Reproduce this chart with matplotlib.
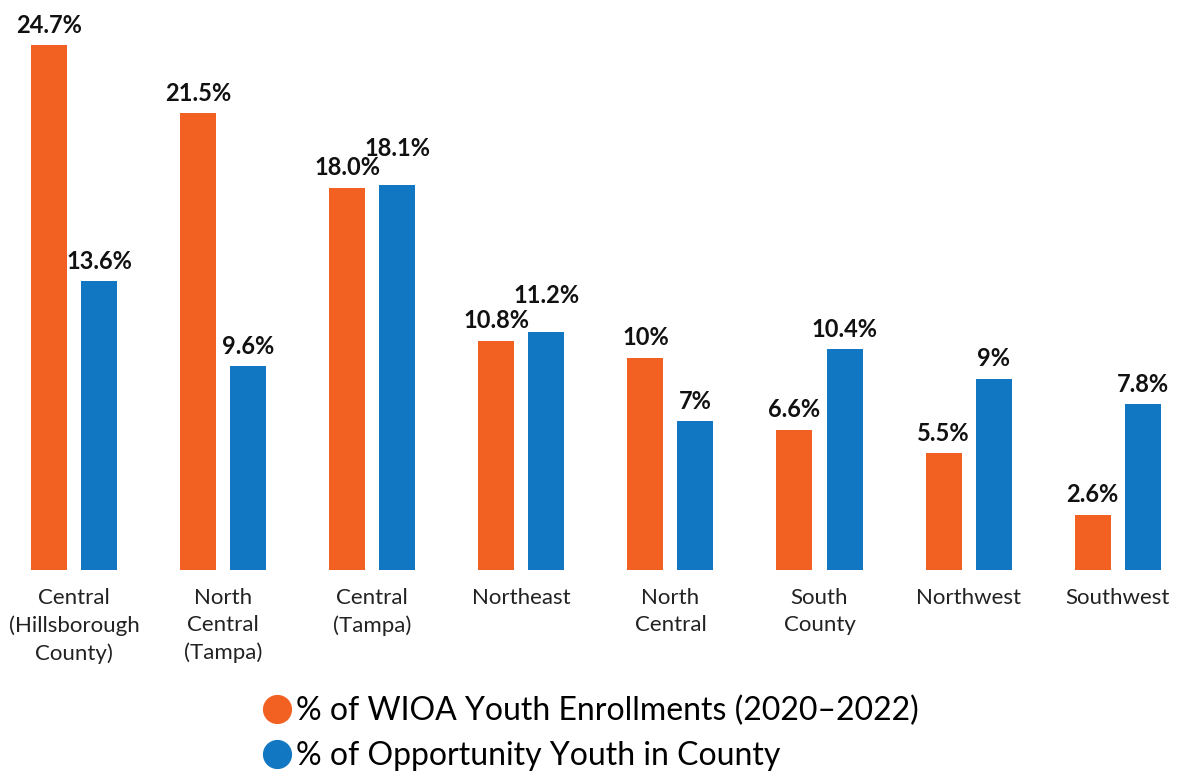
import matplotlib
matplotlib.use("Agg")
import numpy as np
import matplotlib.pyplot as plt
from matplotlib.lines import Line2D

plt.rcParams['font.family'] = ['Lato', 'DejaVu Sans']

regions = ["Central\n(Hillsborough\nCounty)", "North\nCentral\n(Tampa)", "Central\n(Tampa)",
           "Northeast", "North\nCentral", "South\nCounty", "Northwest", "Southwest"]
wioa = [24.7, 21.5, 18.0, 10.8, 10.0, 6.6, 5.5, 2.6]
wioa_labels = ["24.7%", "21.5%", "18.0%", "10.8%", "10%", "6.6%", "5.5%", "2.6%"]
opp = [13.6, 9.6, 18.1, 11.2, 7.0, 10.4, 9.0, 7.8]
opp_labels = ["13.6%", "9.6%", "18.1%", "11.2%", "7%", "10.4%", "9%", "7.8%"]
series_names = ["% of WIOA Youth Enrollments (2020\u20132022)", "% of Opportunity Youth in County"]

orange = "#F26122"
blue = "#1277C2"

W, H = 1178, 774
fig = plt.figure(figsize=(W / 100, H / 100), dpi=100)
ax = fig.add_axes([0, 1 - 570 / H, 1, 570 / H])

x = np.arange(len(regions))
bw = 0.2416
off = 0.1678
b1 = ax.bar(x - off, wioa, bw, color=orange)
b2 = ax.bar(x + off, opp, bw, color=blue)

# labels of near-equal pairs would collide, so lift the blue one
for i, (r1, r2) in enumerate(zip(b1, b2)):
    h1, h2 = r1.get_height(), r2.get_height()
    lift2 = 18 if abs(h1 - h2) < 1.5 else 6
    ax.annotate(wioa_labels[i], (r1.get_x() + r1.get_width() / 2, h1),
                xytext=(0, 6), textcoords="offset points", ha="center", va="bottom",
                fontsize=17, fontweight="bold", color="#111111")
    ax.annotate(opp_labels[i], (r2.get_x() + r2.get_width() / 2, h2),
                xytext=(0, lift2), textcoords="offset points", ha="center", va="bottom",
                fontsize=17, fontweight="bold", color="#111111")

ax.set_xlim(-74 / 149.1, (W - 74) / 149.1)
ax.set_ylim(0, 570 / 21.25)
ax.set_xticks(x)
ax.set_xticklabels(regions, fontsize=16, color="#222222", linespacing=1.45)
ax.tick_params(axis="x", length=0, pad=13)
ax.set_yticks([])
for s in ax.spines.values():
    s.set_visible(False)

handles = [Line2D([], [], marker="o", linestyle="none", markersize=20, color=c) for c in (orange, blue)]
fig.legend(handles, series_names, loc="upper left", bbox_to_anchor=(258 / W, 1 - 696 / H),
           frameon=False, handletextpad=0.0, labelspacing=0.45,
           handlelength=1.2, borderaxespad=0, borderpad=0, prop={"size": 23})

fig.savefig("out.png", dpi=100)
